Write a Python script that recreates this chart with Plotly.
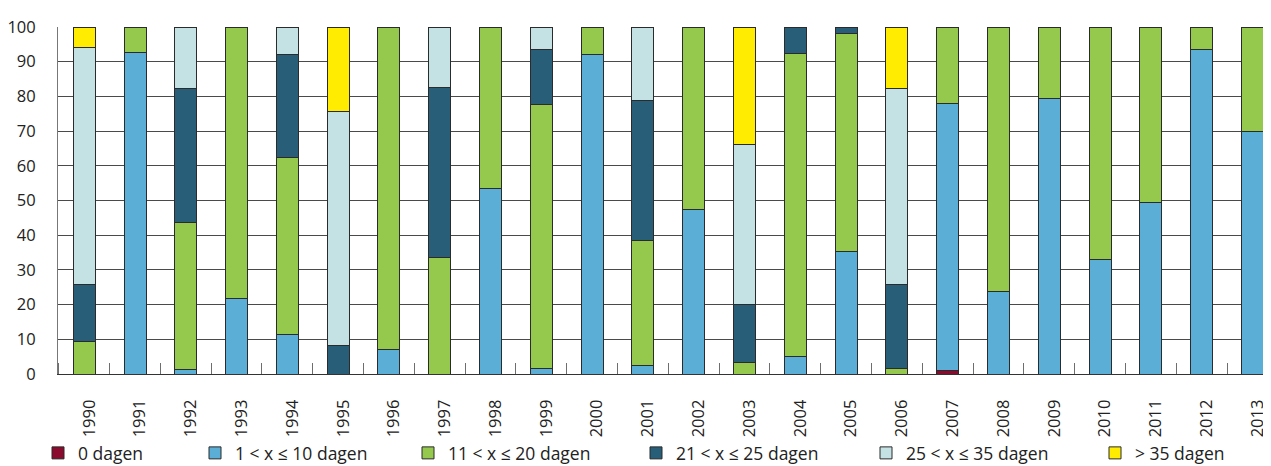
import plotly.graph_objects as go

years = [str(y) for y in range(1990, 2014)]

series_names = ["0 dagen", "1 < x ≤ 10 dagen", "11 < x ≤ 20 dagen",
                "21 < x ≤ 25 dagen", "25 < x ≤ 35 dagen", "> 35 dagen"]

v_0 = [0, 0, 0, 0, 0, 0, 0, 0, 0, 0, 0, 0, 0, 0, 0, 0, 0, 1.1, 0, 0, 0, 0, 0, 0]
v_1_10 = [0, 92.7, 1.2, 21.7, 11.5, 0, 7.1, 0, 53.6, 1.6, 92.0, 2.5, 47.5, 0,
          5.0, 35.2, 0, 76.8, 23.9, 79.5, 33.1, 49.4, 93.6, 69.9]
v_11_20 = [9.3, 7.3, 42.5, 78.3, 50.9, 0, 92.9, 33.7, 46.4, 76.2, 8.0, 35.9, 52.5, 3.3,
           87.5, 62.9, 1.5, 22.1, 76.1, 20.5, 66.9, 50.6, 6.4, 30.1]
v_21_25 = [16.5, 0, 38.7, 0, 29.6, 8.3, 0, 48.8, 0, 15.8, 0, 40.4, 0, 16.6,
           7.5, 1.9, 24.4, 0, 0, 0, 0, 0, 0, 0]
v_25_35 = [68.3, 0, 17.6, 0, 8.0, 67.4, 0, 17.5, 0, 6.4, 0, 21.2, 0, 46.2,
           0, 0, 56.5, 0, 0, 0, 0, 0, 0, 0]
v_35 = [5.9, 0, 0, 0, 0, 24.3, 0, 0, 0, 0, 0, 0, 0, 33.9,
        0, 0, 17.6, 0, 0, 0, 0, 0, 0, 0]

colors = ["#8a0b2d", "#5baed6", "#94c94e", "#285e78", "#c4e1e3", "#ffec00"]
all_values = [v_0, v_1_10, v_11_20, v_21_25, v_25_35, v_35]

# page offset of the plot div (default body margin)
OFF = 8
# legend item symbol-centre positions (page pixels)
legend_px = [58, 215, 428, 656, 886, 1115]
legend_py = 453

W, H = 1271 - OFF, 466 - OFF
ML, MT = 58 - OFF, 27 - OFF
MB = H - (374 - OFF)
plot_w = W - ML
plot_h = H - MT - MB

xpos = list(range(len(years)))
fig = go.Figure()
legend_keys = ["legend", "legend2", "legend3", "legend4", "legend5", "legend6"]
for name, vals, col, lk in zip(series_names, all_values, colors, legend_keys):
    fig.add_trace(go.Bar(
        x=xpos, y=[v if v else None for v in vals], name=name,
        marker=dict(color=col, line=dict(color="#2b2b2b", width=1)),
        width=0.433, legend=lk,
    ))

font_family = "Open Sans"
layout_legends = {}
for lk, px in zip(legend_keys, legend_px):
    layout_legends[lk] = dict(
        x=(px - OFF - 20 - ML) / plot_w, xanchor="left",
        y=(MT + plot_h - (legend_py - OFF)) / plot_h, yanchor="middle",
        orientation="h", bgcolor="rgba(0,0,0,0)",
        font=dict(family=font_family, size=17.5, color="#222222"),
    )

fig.update_layout(
    width=W, height=H,
    margin=dict(l=ML, r=0, t=MT, b=MB, autoexpand=False),
    barmode="stack",
    plot_bgcolor="white", paper_bgcolor="white",
    showlegend=True,
    font=dict(family=font_family, size=16, color="#222222"),
    **layout_legends,
)

fig.update_xaxes(
    range=[-0.516, 23.365], automargin=False,
    tickmode="array", tickvals=xpos, ticktext=years, tickangle=-90,
    ticks="", showgrid=False, zeroline=False,
    showline=True, linecolor="#333333", linewidth=1,
    ticklabelstandoff=18, ticklabelshift=5,
    tickfont=dict(family=font_family, size=16.5, color="#222222"),
    minor=dict(ticks="inside", tick0=0.5, dtick=1, ticklen=11,
               tickcolor="#6e6e6e", tickwidth=1, showgrid=False),
)
fig.update_yaxes(
    range=[0, 100], dtick=10, tick0=0, automargin=False,
    showgrid=True, gridcolor="#4a4a4a", gridwidth=1,
    zeroline=False, showline=True, linecolor="#777777", linewidth=1,
    ticks="", ticklabelstandoff=18,
    tickfont=dict(family=font_family, size=16.5, color="#222222"),
)

fig.write_html("out.html")
